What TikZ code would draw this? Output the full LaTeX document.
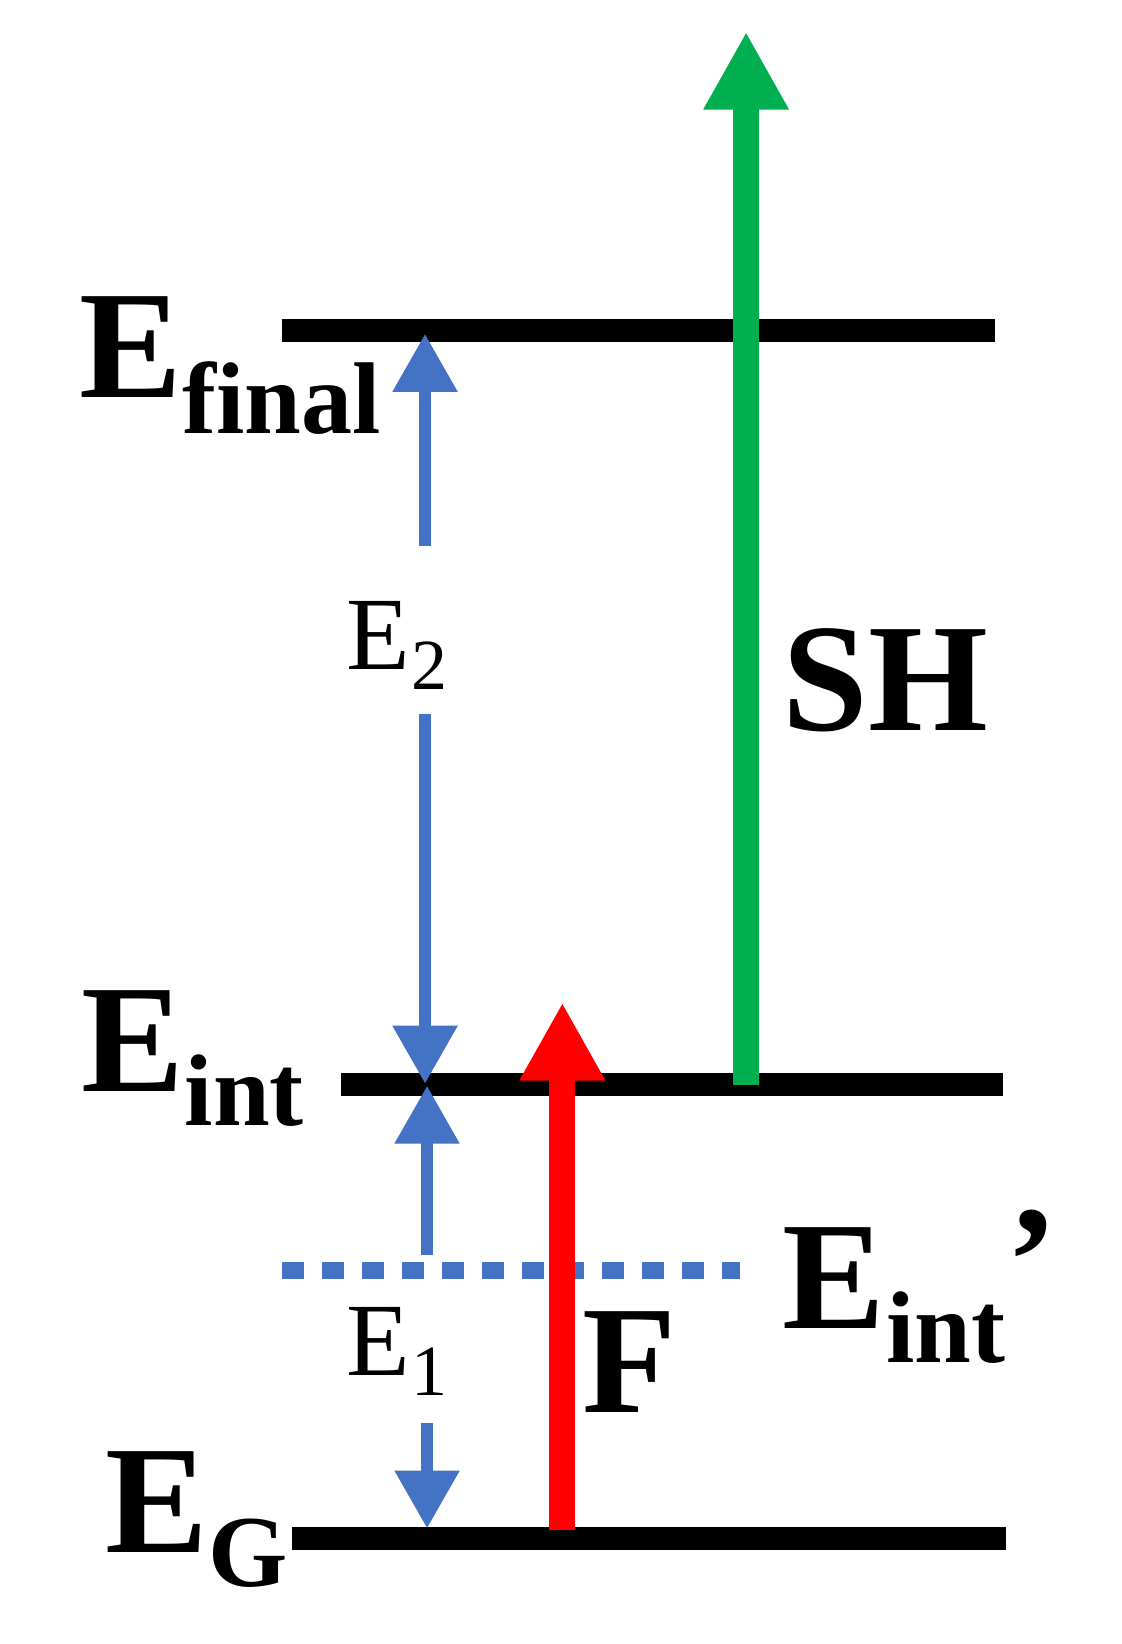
\documentclass[tikz,border=0pt]{standalone}
\usepackage{fontspec}
\setmainfont{Liberation Serif}
\usetikzlibrary{arrows.meta}
\definecolor{bl}{RGB}{68,114,196}
\definecolor{gr}{RGB}{0,176,80}
\begin{document}
\begin{tikzpicture}[x=0.5048pt,y=-0.4953pt,
  lvl/.style={line width=11.5pt},
  big/.style={font=\fontsize{77}{77}\selectfont\bfseries,inner sep=0,anchor=base west},
  sub/.style={font=\fontsize{51}{51}\selectfont\bfseries,inner sep=0,anchor=base west},
  lab/.style={font=\fontsize{52}{52}\selectfont,inner sep=0,anchor=base west},
  labs/.style={font=\fontsize{36}{36}\selectfont,inner sep=0,anchor=base west},
  barr/.style={bl,line width=6pt,-{Triangle[width=31pt,length=29pt]}},
  thick arr/.style={line width=13pt,-{Triangle[width=40pt,length=39pt]}}]
\useasboundingbox (0,0) rectangle (1111.3,1659.6);
% levels
\coordinate (f1) at (279,334); \coordinate (f2) at (986,334);
\coordinate (i1) at (338,1095); \coordinate (i2) at (993,1095);
\coordinate (g1) at (289,1553); \coordinate (g2) at (996,1553);
\coordinate (d1) at (279,1283); \coordinate (d2) at (733,1283);
\draw[lvl] (f1) -- (f2);
\draw[lvl] (i1) -- (i2);
\draw[lvl] (g1) -- (g2);
\draw[bl,line width=8.5pt,dash pattern=on 11pt off 9pt] (d1) -- (d2);
% arrows
\coordinate (gs) at (739,1095); \coordinate (ge) at (739,32);
\coordinate (rs) at (557,1545); \coordinate (re) at (557,1012);
\draw[gr,thick arr] (gs) -- (ge);
\draw[red,thick arr] (rs) -- (re);
\coordinate (a1) at (421,551); \coordinate (a1e) at (421,337);
\coordinate (a2) at (421,721); \coordinate (a2e) at (421,1094);
\coordinate (b1) at (423,1267); \coordinate (b1e) at (423,1096);
\coordinate (b2) at (423,1436); \coordinate (b2e) at (423,1543);
\draw[barr] (a1) -- (a1e);
\draw[barr] (a2) -- (a2e);
\draw[barr] (b1) -- (b1e);
\draw[barr] (b2) -- (b2e);
% labels
\node[big] (Ef) at (78,401) {E};
\node[sub] (Efs) at (Ef.base east) [yshift=-18pt] {final};
\node[big] (Ei) at (80,1102) {E};
\node[sub] (Eis) at (Ei.base east) [yshift=-17pt] {int};
\node[big] (Eg) at (104,1567) {E};
\node[sub] (Egs) at (Eg.base east) [yshift=-17pt] {G};
\node[big] (Ep) at (775,1341) {E};
\node[sub] (Eps) at (Ep.base east) [yshift=-17pt] {int};
\node[big,anchor=base west] (ap) at (Eps.base east) [yshift=25pt] {’};
\node[big] (SH) at (775,737) {SH};
\node[big] (F) at (577,1426) {F};
\node[lab] (E2) at (343,676) {E};
\node[labs] (E2s) at (E2.base east) [yshift=-10pt] {2};
\node[lab] (E1) at (343,1389) {E};
\node[labs] (E1s) at (E1.base east) [yshift=-10pt] {1};
\end{tikzpicture}
\end{document}
